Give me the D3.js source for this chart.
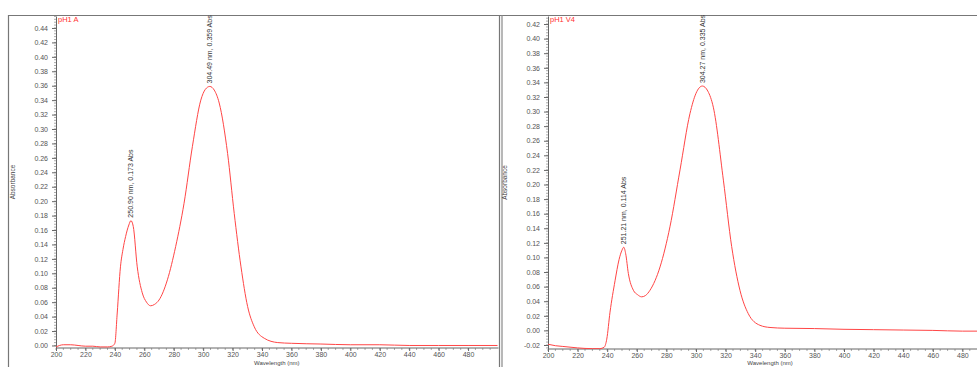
<!DOCTYPE html>
<html>
    <head>
        <title>UV-Vis spectra pH1</title>
        <script src="https://d3js.org/d3.v7.min.js"></script>
        <style>
            body {
                margin: 0;
                background: white;
            }
            text {
                font-family: "Liberation Sans", Arial, sans-serif;
            }
            .tick text {
                font-size: 7px;
                fill: #555;
            }
            .tick line, .domain {
                stroke: #666;
            }
        </style>
    </head>

    <body>
        <svg id="myCanvas" width="977" height="367"></svg>

        <script>
            // pH1 A
            var nmA = [200, 205, 210, 215, 220, 225, 230, 235, 238, 240, 241.6, 243.8, 245.5, 247.3, 249.5, 250.9,
                       252.5, 255.2, 258.6, 261.5, 264.3, 267, 270, 275.7, 281.3, 287, 292.7, 298.4, 301.5, 304.5,
                       307.5, 310.9, 316.6, 321.1, 325.7, 330.2, 334.7, 341.5, 350.7, 360, 380, 400, 420, 440, 460, 480, 500];
            var absA = [-0.002, 0.001, 0.001, 0.0, -0.001, -0.001, -0.002, -0.002, -0.001, 0.003, 0.045, 0.109, 0.133, 0.151, 0.167, 0.173,
                        0.165, 0.109, 0.073, 0.060, 0.055, 0.057, 0.063, 0.091, 0.137, 0.197, 0.276, 0.340, 0.355, 0.359,
                        0.354, 0.336, 0.266, 0.183, 0.109, 0.054, 0.026, 0.010, 0.004, 0.003, 0.002, 0.001, 0.001, 0.0, 0.0, 0.0, 0.0];
            var peakNmA = [250.90, 304.49];
            var peakAbsA = [0.173, 0.359];
            var yTicksA = d3.range(0, 23).map(i => i * 0.02);

            // pH1 V4
            var nmV4 = [200, 205, 210, 220, 230, 235, 238, 239.7, 241.9, 245.3, 248, 250, 251.2, 252.5, 254.3, 257.7,
                        260.5, 263.3, 266, 268.9, 275.7, 282.4, 289.2, 295.9, 300, 304.3, 308, 311.7, 318.5, 324.1,
                        329.7, 335.3, 343.2, 350, 360, 380, 400, 420, 440, 460, 480, 500];
            var absV4 = [-0.019, -0.021, -0.022, -0.024, -0.025, -0.025, -0.023, -0.012, 0.025, 0.068, 0.097, 0.110, 0.114, 0.105, 0.078, 0.055,
                         0.049, 0.046, 0.048, 0.055, 0.087, 0.142, 0.220, 0.297, 0.325, 0.335, 0.328, 0.306, 0.206, 0.115,
                         0.055, 0.023, 0.007, 0.004, 0.003, 0.0025, 0.0015, 0.001, 0.0005, 0.0, -0.001, -0.001];
            var peakNmV4 = [251.21, 304.27];
            var peakAbsV4 = [0.114, 0.335];
            var yTicksV4 = d3.range(-1, 22).map(i => i * 0.02);

            var xTicks = d3.range(200, 481, 20);

            svg = d3.select("#myCanvas");

            // frames
            svg.append("line").attr("x1", 8).attr("x2", 977).attr("y1", 15.5).attr("y2", 15.5)
                .attr("stroke", "#777").attr("stroke-width", 1.2);
            svg.append("line").attr("x1", 8.5).attr("x2", 8.5).attr("y1", 15).attr("y2", 367)
                .attr("stroke", "#777").attr("stroke-width", 1.2);
            svg.append("line").attr("x1", 499.5).attr("x2", 499.5).attr("y1", 15).attr("y2", 367)
                .attr("stroke", "#777").attr("stroke-width", 1.2);
            svg.append("line").attr("x1", 502).attr("x2", 502).attr("y1", 15).attr("y2", 367)
                .attr("stroke", "#888").attr("stroke-width", 1.2);

            function fmt(v) {
                s = (Math.round(v * 100) / 100).toFixed(2);
                return s == "-0.00" ? "0.00" : s;
            }

            function drawPanel(id, nm, abs, peakNm, peakAbs, yTicks, xRange, yDomain, yRange, clipRight, title, ylabelX) {
                g = svg.append("g").attr("id", id);

                x = d3.scaleLinear([200, 500], xRange);
                y = d3.scaleLinear(yDomain, yRange);

                g.append("clipPath").attr("id", id + "clip")
                    .append("rect")
                    .attr("x", xRange[0]).attr("y", yRange[1])
                    .attr("width", clipRight - xRange[0]).attr("height", yRange[0] - yRange[1]);

                // minor ticks
                yMinor = d3.range(-10, 120).map(i => i * 0.004).filter(v => v >= yDomain[0] && v <= yDomain[1]);
                g.selectAll(".ymin").data(yMinor).join("line")
                    .attr("x1", xRange[0] - 2).attr("x2", xRange[0])
                    .attr("y1", d => y(d)).attr("y2", d => y(d))
                    .attr("stroke", "#888").attr("stroke-width", 0.7);
                xMinor = d3.range(200, 500, 5).filter(v => x(v) < clipRight);
                g.selectAll(".xmin").data(xMinor).join("line")
                    .attr("x1", d => x(d)).attr("x2", d => x(d))
                    .attr("y1", yRange[0]).attr("y2", yRange[0] + 2)
                    .attr("stroke", "#888").attr("stroke-width", 0.7);

                yAxis = d3.axisLeft(y).tickValues(yTicks).tickFormat(fmt).tickSize(4).tickPadding(4).tickSizeOuter(0);
                g.append("g").attr("transform", "translate(" + xRange[0] + ",0)").call(yAxis);

                xAxis = d3.axisBottom(x).tickValues(xTicks.filter(v => x(v) < clipRight)).tickFormat(d3.format("d")).tickSize(3).tickPadding(1).tickSizeOuter(0);
                xg = g.append("g").attr("transform", "translate(0," + yRange[0] + ")").call(xAxis);
                xg.select(".domain").attr("d", "M" + xRange[0] + ",0H" + clipRight);

                line = d3.line()
                    .x((d, i) => x(nm[i]))
                    .y(d => y(d))
                    .curve(d3.curveMonotoneX);

                g.append("path")
                    .attr("clip-path", "url(#" + id + "clip)")
                    .attr("d", line(abs))
                    .attr("fill", "none")
                    .attr("stroke", "#ff4545")
                    .attr("stroke-width", 1);

                g.selectAll(".peak").data(peakNm).join("text")
                    .attr("transform", (d, i) => "translate(" + (x(d) + 2.5) + "," + (y(peakAbs[i]) - 3) + ") rotate(-90)")
                    .attr("font-size", 7)
                    .attr("fill", "#333")
                    .text((d, i) => d.toFixed(2) + " nm, " + peakAbs[i].toFixed(3) + " Abs");

                g.append("text")
                    .attr("x", xRange[0] + 2).attr("y", yRange[1] + 6)
                    .attr("font-size", 7.5)
                    .attr("fill", "#ff3030")
                    .text(title);

                g.append("text")
                    .attr("transform", "translate(" + ylabelX + "," + ((yRange[0] + yRange[1]) / 2) + ") rotate(-90)")
                    .attr("text-anchor", "middle")
                    .attr("font-size", 6.5)
                    .attr("fill", "#444")
                    .text("Absorbance");

                g.append("text")
                    .attr("x", x(350)).attr("y", 365.3)
                    .attr("text-anchor", "middle")
                    .attr("font-size", 6)
                    .attr("fill", "#444")
                    .text("Wavelength (nm)");
            }

            drawPanel("pA", nmA, absA, peakNmA, peakAbsA, yTicksA, [56, 497.5], [-0.0035, 0.4566], [348, 16], 498.5, "pH1 A", 15);
            drawPanel("pV4", nmV4, absV4, peakNmV4, peakAbsV4, yTicksV4, [548, 992], [-0.0255, 0.431], [349, 16], 977, "pH1 V4", 507);
        </script>
    </body>
</html>
